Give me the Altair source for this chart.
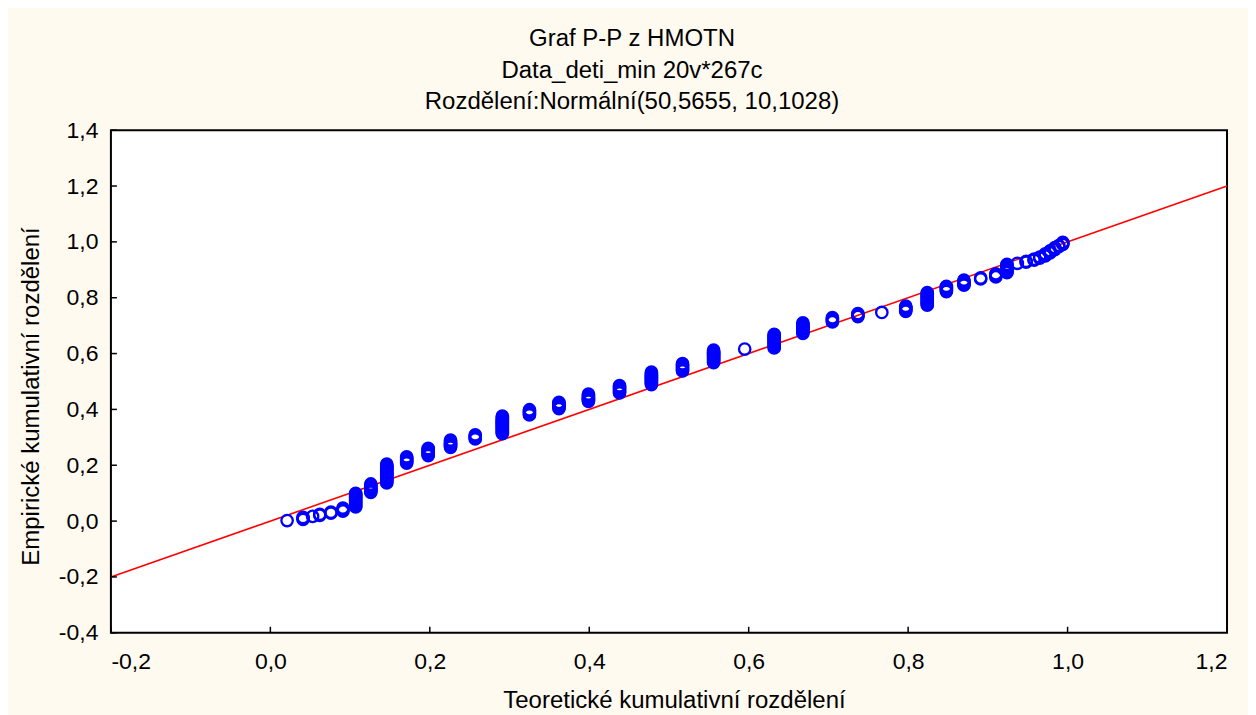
import altair as alt
import pandas as pd

# Theoretical cumulative probability of each distinct HMOTN value (x) and
# number of observations sharing that value (ties form vertical stacks).
theor_x = [0.021, 0.041, 0.053, 0.062, 0.076, 0.091, 0.107, 0.126, 0.146, 0.171,
           0.198, 0.226, 0.257, 0.291, 0.325, 0.362, 0.399, 0.438, 0.478, 0.517,
           0.556, 0.595, 0.632, 0.668, 0.705, 0.737, 0.767, 0.797, 0.824, 0.848,
           0.870, 0.891, 0.910, 0.924, 0.937, 0.948, 0.958, 0.965, 0.972, 0.978,
           0.984, 0.989, 0.994]
tie_counts = [1, 3, 1, 2, 2, 4, 14, 9, 19, 7,
              8, 8, 5, 18, 6, 7, 8, 8, 13, 8,
              13, 1, 14, 11, 5, 4, 1, 6, 13, 6,
              6, 2, 4, 9, 1, 2, 2, 2, 3, 3,
              3, 2, 3]

ref_x = [-0.2, 1.2]
ref_y = [-0.2, 1.2]

x_ticks = [-0.2, 0.0, 0.2, 0.4, 0.6, 0.8, 1.0, 1.2]
y_ticks = [-0.4, -0.2, 0.0, 0.2, 0.4, 0.6, 0.8, 1.0, 1.2, 1.4]

title_lines = ["Graf P-P z HMOTN", "Data_deti_min 20v*267c",
               "Rozdělení:Normální(50,5655, 10,1028)"]
x_title = "Teoretické kumulativní rozdělení"
y_title = "Empirické kumulativní rozdělení"

n_total = sum(tie_counts)
rows = []
rank = 0
for tx, c in zip(theor_x, tie_counts):
    for _ in range(c):
        rank += 1
        rows.append({"teor": tx, "emp": (rank - 0.5) / n_total})
points_df = pd.DataFrame(rows)
ref_df = pd.DataFrame({"teor": ref_x, "emp": ref_y})
xt_df = pd.DataFrame({"v": x_ticks})
yt_df = pd.DataFrame({"v": y_ticks})

W, H = 1117, 503
FONT = "Liberation Sans"
label_expr = "replace(replace(format(datum.value, '.1f'), '.', ','), '−', '-')"

x_scale = alt.Scale(domain=[-0.2, 1.2], nice=False, zero=False)
y_scale = alt.Scale(domain=[-0.4, 1.4], nice=False, zero=False)

x_axis = alt.Axis(values=x_ticks, labelExpr=label_expr, ticks=False, grid=False,
                  domain=False, labelFontSize=23, labelColor="black",
                  labelPadding=18, labelFont=FONT,
                  title=x_title, titleFontSize=24, titleFontWeight="normal",
                  titleColor="black", titleFont=FONT, titleX=W / 2 + 5,
                  titleY=68, titleBaseline="middle", titleAlign="center")
y_axis = alt.Axis(values=y_ticks, labelExpr=label_expr, ticks=False, grid=False,
                  domain=False, labelFontSize=23, labelColor="black",
                  labelPadding=13, labelFont=FONT,
                  title=y_title, titleFontSize=24, titleFontWeight="normal",
                  titleColor="black", titleFont=FONT, titleX=-79,
                  titleY=266, titleBaseline="middle", titleAlign="center",
                  titleAngle=270)

pts = alt.Chart(points_df).mark_point(
    shape="circle", filled=False, color="#0000FF", size=130, strokeWidth=2.3,
    opacity=1
).encode(
    x=alt.X("teor:Q", scale=x_scale, axis=x_axis),
    y=alt.Y("emp:Q", scale=y_scale, axis=y_axis),
)

ref_line = alt.Chart(ref_df).mark_line(color="#FF0000", strokeWidth=1.6, clip=True).encode(
    x=alt.X("teor:Q", scale=x_scale),
    y=alt.Y("emp:Q", scale=y_scale),
)

xticks = alt.Chart(xt_df).mark_rule(color="black", strokeWidth=1.5).encode(
    x=alt.X("v:Q", scale=x_scale),
    y=alt.value(H),
    y2=alt.value(H - 6),
)
yticks = alt.Chart(yt_df).mark_rule(color="black", strokeWidth=1.5).encode(
    y=alt.Y("v:Q", scale=y_scale),
    x=alt.value(0),
    x2=alt.value(6),
)

chart = alt.layer(ref_line, pts, xticks, yticks).properties(
    width=W, height=H,
    autosize=alt.AutoSizeParams(type="none"),
    padding={"left": 103, "top": 122, "right": 21, "bottom": 82},
    background="#FFFAF0",
    title=alt.TitleParams(text=title_lines, fontSize=24, fontWeight="normal",
                          font=FONT, color="black", lineHeight=31.5,
                          anchor="middle", frame="group", dx=-37, offset=5),
).configure_view(
    fill="white", stroke="black", strokeWidth=2
)

chart.save("out.html", embed_options={"renderer": "svg", "actions": False})
